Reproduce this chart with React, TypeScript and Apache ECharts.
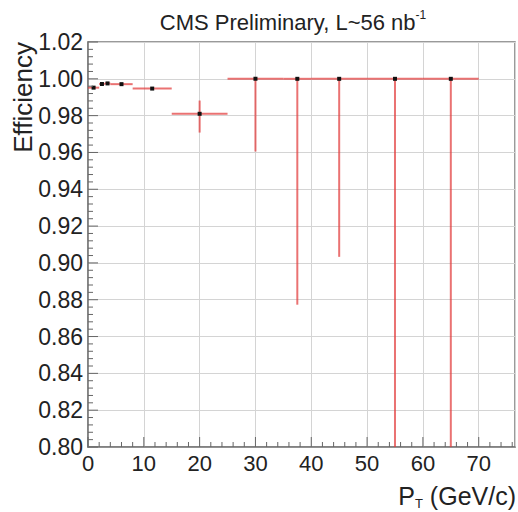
import React, { useEffect, useRef } from "react";
import * as echarts from "echarts";

// Bin edges, centres and efficiency values
const binLow = [0, 2, 3, 4, 8, 15, 25, 35, 40, 50, 60];
const binHigh = [2, 3, 4, 8, 15, 25, 35, 40, 50, 60, 70];
const binCenter = [1, 2.5, 3.5, 6, 11.5, 20, 30, 37.5, 45, 55, 65];
const efficiency = [0.9952, 0.9972, 0.9975, 0.9971, 0.9947, 0.981, 1.0, 1.0, 1.0, 1.0, 1.0];
const errLow = [0.0006, 0.0004, 0.0004, 0.0005, 0.0006, 0.0102, 0.0395, 0.1227, 0.0967, 1.0, 1.0];
const errHigh = [0.0004, 0.0003, 0.0003, 0.0003, 0.0004, 0.0072, 0, 0, 0, 0, 0];

// Axis ranges and tick spacing
const xMin = 0;
const xMax = 76.5;
const xMajor = 10;
const xMinor = 2;
const yMin = 0.8;
const yMax = 1.02;
const yMajor = 0.02;
const yMinor = 0.004;

const titleText = "CMS Preliminary, L~56 nb";
const titleSup = "-1";
const yTitle = "Efficiency";
const xTitleMain = "P";
const xTitleSub = "T";
const xTitleRest = " (GeV/c)";

const FONT = "'Liberation Sans', Arial, Helvetica, sans-serif";

export default function App() {
  const ref = useRef<HTMLDivElement>(null);

  useEffect(() => {
    if (!ref.current) return;
    const chart = echarts.init(ref.current, null, { renderer: "svg" });
    const data = binCenter.map((c, i) => [binLow[i], binHigh[i], c, efficiency[i], errLow[i], errHigh[i]]);

    const frame = "#7a7a7a";
    const tick = "#666";
    const grid = "#d4d4d4";
    const textColor = "#222";
    const barColor = "rgba(226, 60, 60, 0.72)";

    chart.setOption({
      animation: false,
      textStyle: { fontFamily: FONT },
      grid: {
        left: 88,
        right: 3,
        top: 42,
        bottom: 65,
        show: true,
        borderColor: frame,
        borderWidth: 1.5,
      },
      xAxis: {
        type: "value",
        min: xMin,
        max: xMax,
        interval: xMajor,
        axisLine: { show: true, lineStyle: { color: frame, width: 1.5 } },
        axisTick: { show: false },
        splitLine: { show: true, lineStyle: { color: grid, width: 1 } },
        axisLabel: {
          show: true,
          fontSize: 22,
          color: textColor,
          margin: 5,
          showMaxLabel: false,
          formatter: (v: number) => (Math.abs(v % 10) < 1e-6 ? String(Math.round(v)) : ""),
        },
      },
      yAxis: {
        type: "value",
        min: yMin,
        max: yMax,
        interval: yMajor,
        axisLine: { show: true, lineStyle: { color: frame, width: 1.5 } },
        axisTick: { show: false },
        splitLine: { show: true, lineStyle: { color: grid, width: 1 } },
        axisLabel: {
          fontSize: 23,
          color: textColor,
          margin: 5,
          formatter: (v: number) => v.toFixed(2),
        },
      },
      series: [
        {
          type: "custom",
          clip: true,
          z: 10,
          encode: { x: [0, 1, 2], y: [3] },
          data,
          renderItem: (params: any, api: any) => {
            const xl = api.value(0);
            const xh = api.value(1);
            const xc = api.value(2);
            const y = api.value(3);
            const el = api.value(4);
            const eh = api.value(5);
            const pL = api.coord([xl, y]);
            const pH = api.coord([xh, y]);
            const pC = api.coord([xc, y]);
            const pLo = api.coord([xc, y - el]);
            const pHi = api.coord([xc, y + eh]);
            const style = { stroke: barColor, lineWidth: 2 };
            return {
              type: "group",
              children: [
                { type: "line", shape: { x1: pL[0], y1: pL[1], x2: pH[0], y2: pH[1] }, style },
                { type: "line", shape: { x1: pLo[0], y1: pLo[1], x2: pHi[0], y2: pHi[1] }, style },
                {
                  type: "rect",
                  shape: { x: pC[0] - 2, y: pC[1] - 2, width: 4, height: 4 },
                  style: { fill: "#111" },
                },
              ],
            };
          },
        },
      ],
    });

    // Tick marks, positioned through the chart's own scales
    const tickEls: any[] = [];
    const nx = Math.floor((xMax - xMin) / xMinor + 1e-9);
    for (let i = 0; i <= nx; i++) {
      const v = xMin + i * xMinor;
      const major = Math.abs(v / xMajor - Math.round(v / xMajor)) < 1e-6;
      const p = chart.convertToPixel({ gridIndex: 0 }, [v, yMin]) as number[];
      const len = major ? 10 : 5;
      tickEls.push({
        type: "line",
        silent: true,
        z: 20,
        shape: { x1: p[0], y1: p[1], x2: p[0], y2: p[1] - len },
        style: { stroke: tick, lineWidth: 1 },
      });
    }
    const ny = Math.round((yMax - yMin) / yMinor);
    for (let i = 0; i <= ny; i++) {
      const v = yMin + i * yMinor;
      const major = i % Math.round(yMajor / yMinor) === 0;
      const p = chart.convertToPixel({ gridIndex: 0 }, [xMin, v]) as number[];
      const len = major ? 10 : 5;
      tickEls.push({
        type: "line",
        silent: true,
        z: 20,
        shape: { x1: p[0], y1: p[1], x2: p[0] + len, y2: p[1] },
        style: { stroke: tick, lineWidth: 1 },
      });
    }

    chart.setOption({
      graphic: {
        elements: [
          {
            type: "group",
            id: "ticks",
            children: tickEls,
          },
          {
            type: "text",
            x: 293,
            y: 22,
            style: {
              text: `{a|${titleText}}{s|${titleSup}}`,
              align: "center",
              verticalAlign: "middle",
              rich: {
                a: { fontSize: 22, fontFamily: FONT, fill: textColor, lineHeight: 26 },
                s: { fontSize: 12, fontFamily: FONT, fill: textColor, verticalAlign: "top", lineHeight: 26, padding: [0, 0, 10, 0] },
              },
            },
          },
          {
            type: "text",
            x: 23,
            y: 42,
            rotation: Math.PI / 2,
            style: {
              text: yTitle,
              fontSize: 26,
              fontFamily: FONT,
              fill: textColor,
              align: "right",
              verticalAlign: "middle",
            },
          },
          {
            type: "text",
            x: 516,
            y: 496,
            style: {
              text: `{a|${xTitleMain}}{b|${xTitleSub}}{a|${xTitleRest}}`,
              align: "right",
              verticalAlign: "middle",
              rich: {
                a: { fontSize: 25, fontFamily: FONT, fill: textColor, lineHeight: 30 },
                b: { fontSize: 13, fontFamily: FONT, fill: textColor, lineHeight: 30, padding: [14, 0, 0, 0] },
              },
            },
          },
        ],
      },
    });

    return () => chart.dispose();
  }, []);

  return (
    <div
      ref={ref}
      style={{ position: "absolute", left: 0, top: 0, width: 518, height: 512, background: "#fff" }}
    />
  );
}
